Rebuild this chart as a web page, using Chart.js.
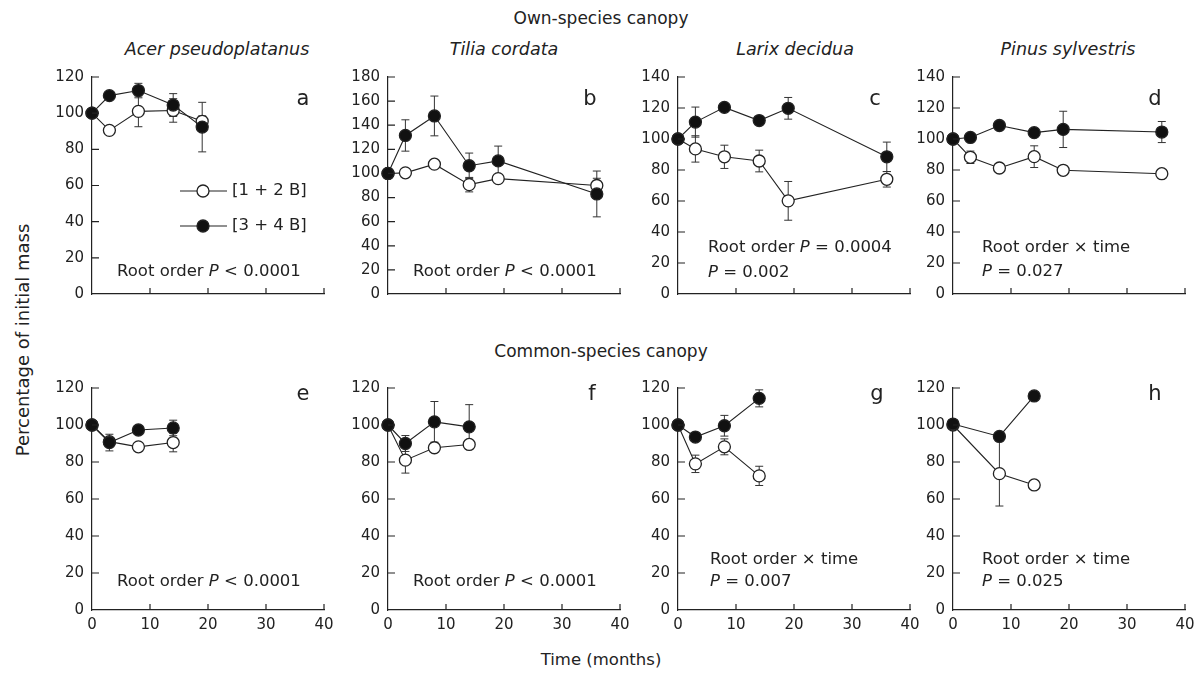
<!DOCTYPE html>
<html>
<head>
<meta charset="utf-8">
<script src="https://cdn.jsdelivr.net/npm/chart.js@4.4.0/dist/chart.umd.min.js"></script>
<style>
  html, body { margin: 0; padding: 0; background: #fff; }
  body { width: 1202px; height: 675px; position: relative; overflow: hidden;
         font-family: "DejaVu Sans", sans-serif; color: #222; }
  .panel { position: absolute; }
  .txt { position: absolute; white-space: nowrap; transform: translateX(-50%); line-height: 20px; }
  .ylab { position: absolute; left: 22px; top: 340px; white-space: nowrap; font-size: 18px;
          transform: translate(-50%, -50%) rotate(-90deg); }
</style>
</head>
<body>
<div class="txt" style="left:601px;top:8px;font-size:17px">Own-species canopy</div>
<div class="txt" style="left:217px;top:39px;font-size:17.5px;font-style:italic">Acer pseudoplatanus</div>
<div class="txt" style="left:504px;top:39px;font-size:17.5px;font-style:italic">Tilia cordata</div>
<div class="txt" style="left:795px;top:39px;font-size:17.5px;font-style:italic">Larix decidua</div>
<div class="txt" style="left:1068px;top:39px;font-size:17.5px;font-style:italic">Pinus sylvestris</div>
<div class="txt" style="left:601px;top:341px;font-size:17px">Common-species canopy</div>
<div class="txt" style="left:601px;top:650px;font-size:16.5px">Time (months)</div>
<div class="ylab">Percentage of initial mass</div>

<script>
const INK = '#222';

const X_TICKS = [0, 10, 20, 30, 40];
const SERIES_NAMES = ['[1 + 2 B]', '[3 + 4 B]'];
const Y_MAX = [120, 180, 140, 140, 120, 120, 120, 120];

// own-species canopy
const MONTHS_A = [0, 3, 8, 14, 19];
const OPEN_A = [100, 90.5, 101, 101.5, 95.5];
const OPEN_A_SE = [0, 0, 8.5, 6.5, 3];
const FILLED_A = [100, 109.7, 112.5, 104.5, 92.3];
const FILLED_A_SE = [0, 0, 4, 6.3, 13.7];

const MONTHS_B = [0, 3, 8, 14, 19, 36];
const OPEN_B = [100, 100.5, 107.7, 90.7, 95.7, 90];
const OPEN_B_SE = [0, 0, 0, 6, 0, 6];
const FILLED_B = [100, 131.5, 147.7, 106.4, 110.4, 83];
const FILLED_B_SE = [0, 13, 16.5, 10.5, 12.3, 19];

const MONTHS_C = [0, 3, 8, 14, 19, 36];
const OPEN_C = [100, 93.6, 88.5, 85.8, 60.1, 74];
const OPEN_C_SE = [0, 8.5, 7.5, 7, 12.5, 5];
const FILLED_C = [100, 110.9, 120.4, 111.9, 119.8, 88.5];
const FILLED_C_SE = [0, 9.7, 0, 0, 7, 9.5];

const MONTHS_D = [0, 3, 8, 14, 19, 36];
const OPEN_D = [100, 88.2, 81.3, 88.6, 79.8, 77.6];
const OPEN_D_SE = [0, 4, 0, 7, 0, 0];
const FILLED_D = [100, 101, 108.7, 104.1, 106.2, 104.5];
const FILLED_D_SE = [0, 0, 0, 0, 11.7, 6.8];

// common-species canopy
const MONTHS_E = [0, 3, 8, 14];
const OPEN_E = [100, 91, 88.2, 90.5];
const OPEN_E_SE = [0, 0, 0, 5];
const FILLED_E = [100, 90.5, 97.3, 98.4];
const FILLED_E_SE = [0, 4.5, 0, 4.2];

const MONTHS_F = [0, 3, 8, 14];
const OPEN_F = [100, 81, 87.7, 89.5];
const OPEN_F_SE = [0, 7, 0, 0];
const FILLED_F = [100, 90, 101.7, 99];
const FILLED_F_SE = [0, 4.3, 11, 12];

const MONTHS_G = [0, 3, 8, 14];
const OPEN_G = [100, 79, 88.2, 72.5];
const OPEN_G_SE = [0, 4.7, 4.3, 5.2];
const FILLED_G = [100, 93.5, 99.6, 114.4];
const FILLED_G_SE = [0, 0, 5.6, 4.6];

const MONTHS_H = [0, 8, 14];
const OPEN_H = [100, 73.7, 67.6];
const OPEN_H_SE = [0, 17.5, 2];
const FILLED_H = [100.5, 93.8, 115.7];
const FILLED_H_SE = [0, 0, 0];

// statistics text, [text, italic]
const NOTE_LT = [[['Root order ', 0], ['P', 1], [' < 0.0001', 0]]];
const NOTE_C = [[['Root order ', 0], ['P', 1], [' = 0.0004', 0]], [['P', 1], [' = 0.002', 0]]];
const NOTE_D = [[['Root order × time', 0]], [['P', 1], [' = 0.027', 0]]];
const NOTE_G = [[['Root order × time', 0]], [['P', 1], [' = 0.007', 0]]];
const NOTE_H = [[['Root order × time', 0]], [['P', 1], [' = 0.025', 0]]];

const panels = [
    { letter: 'a', m: MONTHS_A, o: OPEN_A, os: OPEN_A_SE, f: FILLED_A, fs: FILLED_A_SE, left: 92, top: 70, row: 0, note: NOTE_LT, noteX: 25, noteY: [22], letterX: 211, legend: true },
    { letter: 'b', m: MONTHS_B, o: OPEN_B, os: OPEN_B_SE, f: FILLED_B, fs: FILLED_B_SE, left: 388, top: 70, row: 0, note: NOTE_LT, noteX: 25, noteY: [22], letterX: 202 },
    { letter: 'c', m: MONTHS_C, o: OPEN_C, os: OPEN_C_SE, f: FILLED_C, fs: FILLED_C_SE, left: 678, top: 70, row: 0, note: NOTE_C, noteX: 30, noteY: [46, 21], letterX: 197 },
    { letter: 'd', m: MONTHS_D, o: OPEN_D, os: OPEN_D_SE, f: FILLED_D, fs: FILLED_D_SE, left: 953, top: 70, row: 0, note: NOTE_D, noteX: 29, noteY: [46, 22], letterX: 202 },
    { letter: 'e', m: MONTHS_E, o: OPEN_E, os: OPEN_E_SE, f: FILLED_E, fs: FILLED_E_SE, left: 92, top: 381, row: 1, note: NOTE_LT, noteX: 25, noteY: [28], letterX: 211 },
    { letter: 'f', m: MONTHS_F, o: OPEN_F, os: OPEN_F_SE, f: FILLED_F, fs: FILLED_F_SE, left: 388, top: 381, row: 1, note: NOTE_LT, noteX: 25, noteY: [28], letterX: 204 },
    { letter: 'g', m: MONTHS_G, o: OPEN_G, os: OPEN_G_SE, f: FILLED_G, fs: FILLED_G_SE, left: 678, top: 381, row: 1, note: NOTE_G, noteX: 32, noteY: [50, 28], letterX: 199 },
    { letter: 'h', m: MONTHS_H, o: OPEN_H, os: OPEN_H_SE, f: FILLED_H, fs: FILLED_H_SE, left: 953, top: 381, row: 1, note: NOTE_H, noteX: 29, noteY: [50, 28], letterX: 202 }
];

// error bars under the markers, inward ticks, letters, notes, legend on top
const panelExtras = {
    id: 'panelExtras',
    beforeDatasetsDraw(chart) {
        const { ctx, scales: { x, y } } = chart;
        ctx.save();
        ctx.strokeStyle = '#333';
        ctx.lineWidth = 1;
        chart.data.datasets.forEach(ds => {
            ds.data.forEach((pt, i) => {
                const e = ds.se[i];
                if (!e) return;
                const px = x.getPixelForValue(pt.x);
                const y1 = y.getPixelForValue(pt.y - e);
                const y2 = y.getPixelForValue(pt.y + e);
                ctx.beginPath();
                ctx.moveTo(px, y1); ctx.lineTo(px, y2);
                ctx.moveTo(px - 4, y1); ctx.lineTo(px + 4, y1);
                ctx.moveTo(px - 4, y2); ctx.lineTo(px + 4, y2);
                ctx.stroke();
            });
        });
        ctx.restore();
    },
    afterDraw(chart) {
        const { ctx, chartArea: a, scales: { x, y } } = chart;
        const p = chart.options.plugins.panelExtras;
        ctx.save();
        ctx.strokeStyle = INK;
        ctx.lineWidth = 1.2;
        ctx.beginPath();
        y.ticks.forEach(t => {
            if (t.value <= 0) return;
            const py = y.getPixelForValue(t.value);
            ctx.moveTo(a.left, py); ctx.lineTo(a.left + 7, py);
        });
        x.ticks.forEach(t => {
            if (t.value <= 0) return;
            const px = x.getPixelForValue(t.value);
            ctx.moveTo(px, a.bottom); ctx.lineTo(px, a.bottom - 6);
        });
        ctx.stroke();

        ctx.fillStyle = INK;
        ctx.textBaseline = 'middle';
        ctx.textAlign = 'center';
        ctx.font = '21px "DejaVu Sans"';
        ctx.fillText(p.letter, a.left + p.letterX, a.top + p.letterY);

        ctx.textAlign = 'left';
        p.note.forEach((line, i) => {
            let cx = a.left + p.noteX;
            const cy = a.bottom - p.noteY[i];
            line.forEach(([txt, it]) => {
                ctx.font = (it ? 'italic ' : '') + '16.5px "DejaVu Sans"';
                ctx.fillText(txt, cx, cy);
                cx += ctx.measureText(txt).width;
            });
        });

        if (p.legend) {
            const order = [1, 0];
            order.forEach((di, k) => {
                const ds = chart.data.datasets[di];
                const ly = a.top + 114 + k * 35;
                ctx.strokeStyle = ds.borderColor;
                ctx.lineWidth = ds.borderWidth;
                ctx.beginPath();
                ctx.moveTo(a.left + 88, ly); ctx.lineTo(a.left + 135, ly);
                ctx.stroke();
                ctx.beginPath();
                ctx.arc(a.left + 111, ly, ds.pointRadius, 0, Math.PI * 2);
                ctx.fillStyle = ds.pointBackgroundColor;
                ctx.fill();
                ctx.lineWidth = ds.pointBorderWidth;
                ctx.strokeStyle = ds.pointBorderColor;
                ctx.stroke();
                ctx.fillStyle = INK;
                ctx.font = '16.5px "DejaVu Sans"';
                ctx.fillText(ds.label, a.left + 140, ly);
            });
        }
        ctx.restore();
    }
};

function series(label, months, vals, se, fill) {
    return {
        label: label,
        data: months.map((m, i) => ({ x: m, y: vals[i] })),
        se: se,
        borderColor: INK,
        borderWidth: 1.1,
        pointRadius: 6,
        pointHoverRadius: 6,
        pointBackgroundColor: fill,
        pointBorderColor: INK,
        pointBorderWidth: 1.3,
        clip: false,
        tension: 0
    };
}

panels.forEach((p, idx) => {
    const xh = p.row === 1 ? 30 : 12;
    const div = document.createElement('div');
    div.className = 'panel';
    div.style.left = (p.left - 50) + 'px';
    div.style.top = (p.top - 10) + 'px';
    const canvas = document.createElement('canvas');
    canvas.width = 298;
    canvas.height = 10 + 229 + xh;
    div.appendChild(canvas);
    document.body.appendChild(div);

    new Chart(canvas.getContext('2d'), {
        type: 'line',
        data: {
            datasets: [
                series(SERIES_NAMES[1], p.m, p.f, p.fs, '#111'),
                series(SERIES_NAMES[0], p.m, p.o, p.os, '#fff')
            ]
        },
        options: {
            responsive: false,
            animation: false,
            devicePixelRatio: 1,
            layout: { padding: { top: 10, right: 16, left: 0, bottom: 0 } },
            scales: {
                x: {
                    type: 'linear',
                    min: X_TICKS[0],
                    max: X_TICKS[X_TICKS.length - 1],
                    afterBuildTicks: s => { s.ticks = X_TICKS.map(v => ({ value: v })); },
                    afterFit: s => { s.height = xh; },
                    grid: { display: false, drawTicks: false },
                    border: { display: true, color: INK, width: 1.2 },
                    ticks: {
                        display: p.row === 1,
                        color: INK,
                        padding: 6,
                        maxRotation: 0,
                        font: { family: '"DejaVu Sans"', size: 15 }
                    }
                },
                y: {
                    min: 0,
                    max: Y_MAX[idx],
                    afterFit: s => { s.width = 50; },
                    grid: { display: false, drawTicks: false },
                    border: { display: true, color: INK, width: 1.2 },
                    ticks: {
                        stepSize: 20,
                        color: INK,
                        padding: 8,
                        font: { family: '"DejaVu Sans"', size: 15 }
                    }
                }
            },
            plugins: {
                legend: { display: false },
                tooltip: { enabled: false },
                panelExtras: {
                    letter: p.letter,
                    letterX: p.letterX,
                    letterY: p.row === 1 ? 7 : 23,
                    note: p.note,
                    noteX: p.noteX,
                    noteY: p.noteY,
                    legend: !!p.legend
                }
            }
        },
        plugins: [panelExtras]
    });
});
</script>
</body>
</html>
